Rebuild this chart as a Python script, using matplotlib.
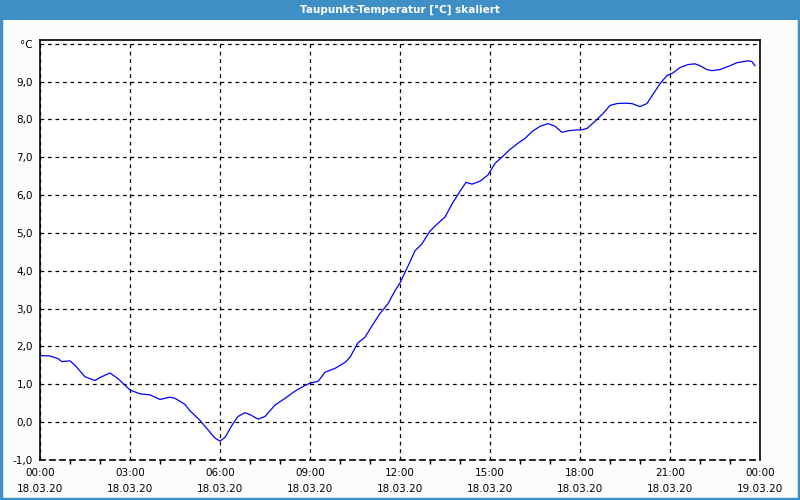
import matplotlib.pyplot as plt
from matplotlib.patches import Rectangle
import numpy as np

# hours since 18.03.20 00:00 and dew point temperature in degC
hours = [0.0, 0.33, 0.6, 0.73, 1.0, 1.17, 1.5, 1.83, 2.0, 2.33, 2.6, 3.0, 3.33, 3.67,
         4.0, 4.33, 4.5, 4.83, 5.0, 5.33, 5.67, 5.83, 6.0, 6.17, 6.4, 6.6, 6.83,
         7.0, 7.27, 7.5, 7.83, 8.17, 8.5, 8.83, 9.0, 9.27, 9.5, 9.83, 10.17, 10.33,
         10.6, 10.83, 11.07, 11.33, 11.6, 11.83, 12.0, 12.27, 12.5, 12.73, 13.0,
         13.27, 13.5, 13.73, 14.0, 14.2, 14.4, 14.67, 14.93, 15.17, 15.43, 15.67,
         15.93, 16.17, 16.4, 16.67, 16.93, 17.17, 17.4, 17.6, 17.83, 18.07, 18.23,
         18.5, 18.77, 19.0, 19.23, 19.5, 19.73, 20.0, 20.23, 20.43, 20.67, 20.9,
         21.1, 21.33, 21.6, 21.83, 22.0, 22.23, 22.4, 22.67, 23.0, 23.23, 23.6,
         23.73, 23.83]
dewpoint = [1.76, 1.75, 1.68, 1.6, 1.62, 1.5, 1.2, 1.1, 1.18, 1.3, 1.15, 0.85, 0.75,
            0.72, 0.6, 0.66, 0.63, 0.47, 0.3, 0.05, -0.27, -0.42, -0.5, -0.4, -0.08,
            0.15, 0.25, 0.2, 0.08, 0.15, 0.45, 0.63, 0.82, 0.97, 1.03, 1.08, 1.32,
            1.42, 1.58, 1.71, 2.1, 2.24, 2.55, 2.87, 3.13, 3.47, 3.68, 4.13, 4.53,
            4.71, 5.05, 5.26, 5.42, 5.76, 6.1, 6.34, 6.29, 6.37, 6.53, 6.84, 7.03,
            7.21, 7.37, 7.5, 7.68, 7.82, 7.89, 7.82, 7.66, 7.7, 7.72, 7.73, 7.76,
            7.95, 8.16, 8.37, 8.42, 8.43, 8.42, 8.34, 8.42, 8.66, 8.95, 9.16,
            9.23, 9.37, 9.45, 9.47, 9.42, 9.32, 9.29, 9.32, 9.42, 9.5, 9.55,
            9.53, 9.42]

xtick_hours = [0, 3, 6, 9, 12, 15, 18, 21, 24]
xtick_labels = ['00:00\n18.03.20', '03:00\n18.03.20', '06:00\n18.03.20',
                '09:00\n18.03.20', '12:00\n18.03.20', '15:00\n18.03.20',
                '18:00\n18.03.20', '21:00\n18.03.20', '00:00\n19.03.20']
ytick_vals = [-1, 0, 1, 2, 3, 4, 5, 6, 7, 8, 9, 10]
ytick_labels = ['-1,0', '0,0', '1,0', '2,0', '3,0', '4,0', '5,0', '6,0', '7,0',
                '8,0', '9,0', '°C']

blue = '#3d8fc6'

fig = plt.figure(figsize=(8, 5), dpi=100)
fig.patch.set_facecolor('#fbfdfb')

# title bar and window border
fig.add_artist(Rectangle((0, 0.96), 1, 0.04, transform=fig.transFigure,
                         facecolor=blue, edgecolor='none'))
fig.add_artist(Rectangle((0.0012, 0.003), 0.9976, 0.994, transform=fig.transFigure,
                         facecolor='none', edgecolor=blue, linewidth=2.5))
fig.text(0.5, 0.98, 'Taupunkt-Temperatur [°C] skaliert', color='white',
         ha='center', va='center', fontsize=7.5, fontweight='bold')

ax = fig.add_axes([0.05, 0.08, 0.9, 0.84])
ax.set_facecolor('white')
ax.plot(hours, dewpoint, color='#0000ff', linewidth=0.9)

ax.set_xlim(0, 24)
ax.set_ylim(-1, 10.1)

ax.set_xticks(xtick_hours)
ax.set_xticklabels(xtick_labels, fontsize=7.5, linespacing=1.75)
ax.set_xticks(np.arange(0, 25, 1), minor=True)
ax.set_yticks(ytick_vals)
ax.set_yticklabels(ytick_labels, fontsize=7.5)

ax.tick_params(axis='x', which='major', length=0, pad=6)
ax.tick_params(axis='x', which='minor', length=3, width=1, direction='out')
ax.tick_params(axis='y', which='major', length=0, pad=5)

ax.grid(True, which='major', color='black', linestyle=(0, (3, 3)), linewidth=0.9)

for side in ['left', 'right', 'top']:
    ax.spines[side].set_linewidth(1.2)
ax.spines['bottom'].set_linestyle((0, (3, 3)))
ax.spines['bottom'].set_linewidth(1.2)

plt.savefig('out.png', dpi=100, facecolor=fig.get_facecolor())
